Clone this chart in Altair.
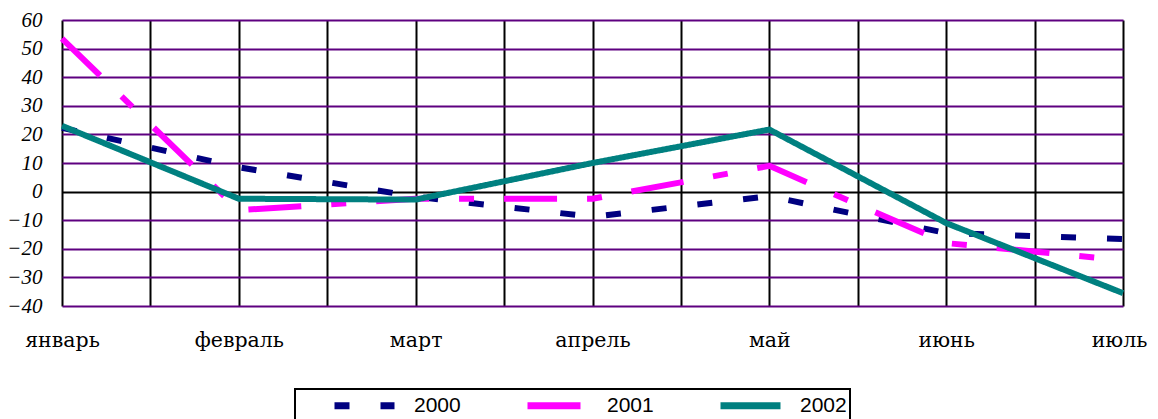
import json
import altair as alt
import pandas as pd

months = ["январь", "февраль", "март", "апрель", "май", "июнь", "июль"]
years = ["2000", "2001", "2002"]
v2000 = [22.3, 8.5, -1.8, -8.8, -1.6, -14.5, -16.6]
v2001 = [53.5, -6.5, -2.5, -2.5, 9.0, -18.0, -24.0]
v2002 = [23.0, -2.5, -2.8, 10.0, 21.7, -11.0, -35.5]
y_ticks = list(range(-40, 61, 10))

colors = ["#000080", "#FF00FF", "#008080"]
dashes = [[15, 31], [53, 30, 15, 30], [1, 0]]

rows = []
for yr, vals in zip(years, [v2000, v2001, v2002]):
    for i, (m, v) in enumerate(zip(months, vals)):
        rows.append({"pos": 2 * i, "month": m, "year": yr, "value": v, "ord": i})
df = pd.DataFrame(rows)

label_expr = (
    "datum.value % 2 === 0 ? "
    + json.dumps(months, ensure_ascii=False)
    + "[datum.value / 2] : ''"
)

legend = alt.Legend(
    orient="none",
    legendX=233,
    legendY=369,
    direction="horizontal",
    columns=3,
    title=None,
    symbolType="M-3,0H3",
    symbolSize=400,
    symbolStrokeWidth=7,
    labelFont="Liberation Sans",
    labelFontSize=21,
    labelColor="black",
    labelOffset=36,
    columnPadding=30,
    strokeColor="black",
    fillColor="white",
    padding=3,
    symbolOffset=53,
)

chart = (
    alt.Chart(df)
    .mark_line(strokeWidth=6, strokeCap="butt", strokeJoin="round")
    .encode(
        x=alt.X(
            "pos:Q",
            scale=alt.Scale(domain=[0, 12], nice=False, zero=False),
            axis=alt.Axis(
                values=list(range(13)),
                labelExpr=label_expr,
                title=None,
                domain=False,
                ticks=False,
                grid=True,
                gridColor="black",
                gridWidth=2,
                labelFont="DejaVu Serif",
                labelFontSize=20.5,
                labelPadding=24,
                labelFlush=False,
                labelOverlap=False,
                labelColor="black",
                labelOffset={"condition": {"test": "datum.value === 12", "value": -4}, "value": 0},
            ),
        ),
        y=alt.Y(
            "value:Q",
            scale=alt.Scale(domain=[-40, 60], nice=False),
            axis=alt.Axis(
                values=y_ticks,
                title=None,
                domain=False,
                ticks=False,
                grid=True,
                gridColor={"condition": {"test": "datum.value === 0", "value": "black"}, "value": "#5E0080"},
                gridWidth=2,
                labelFont="Liberation Serif",
                labelFontStyle="italic",
                labelFontSize=21,
                labelPadding=20,
                labelColor="black",
            ),
        ),
        color=alt.Color("year:N", scale=alt.Scale(domain=years, range=colors), legend=legend),
        strokeDash=alt.StrokeDash("year:N", scale=alt.Scale(domain=years, range=dashes), legend=legend),
        order="ord:Q",
    )
    .properties(
        width=1061,
        height=286,
        autosize="none",
        padding={"left": 54, "top": 12, "right": 27, "bottom": 120},
    )
    .configure_view(stroke=None)
    .configure_legend(strokeWidth=2)
)

chart.save("out.html", embed_options={"renderer": "svg", "actions": False})
